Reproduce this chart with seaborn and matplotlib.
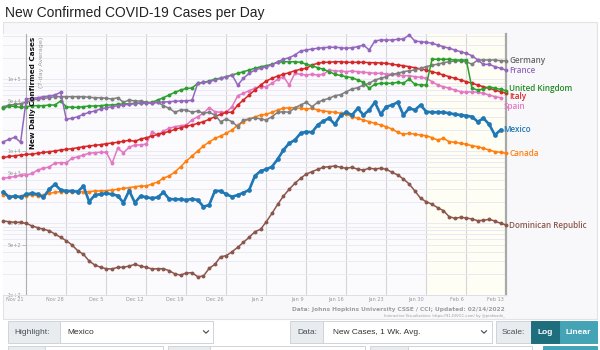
import pandas as pd
import numpy as np
import seaborn as sns
import matplotlib.pyplot as plt
import matplotlib.dates as mdates
import matplotlib.transforms as mtransforms
from matplotlib.patches import Rectangle
from matplotlib.lines import Line2D
from matplotlib.ticker import FixedLocator, LogLocator, NullFormatter

# daily 7-day average of new cases, Nov 17 2021 .. Feb 13 2022
dates = pd.date_range('2021-11-17', '2022-02-13', freq='D')

germany = [41600, 43950, 44670, 45830,
           47930, 51590, 53250, 54450, 55510, 57330, 57330, 57330, 57330, 57330,
           57330, 56230, 55510, 55510, 54450, 53250, 55510, 47930, 51590, 49960,
           49960, 47930, 46420, 47930, 42990, 39540, 34820, 37500, 37500, 34820,
           36300, 33730, 34820, 31920, 25760, 28110, 25760, 21960, 27210, 28110,
           29290, 28110, 27210, 30240, 34820, 35480, 34820, 40330, 43950, 47930,
           41600, 47930, 51590, 54450, 59200, 61120, 67260, 73340, 76430, 83330,
           87980, 97790, 103200, 108700, 117300, 121100, 127500, 131600, 134600, 142200,
           149600, 158000, 161600, 170100, 175500, 179600, 179600, 175500, 161600, 185400,
           185400, 185400, 185400, 181300, 181300]

france = [13590, 14680, 15650, 13335,
          53250, 54450, 55510, 57330, 58630, 60530, 65970, 27830, 28730, 30240,
          32650, 34820, 36300, 38690, 40330, 41600, 42990, 43950, 44960, 45830,
          46420, 46870, 47320, 47930, 48390, 48860, 49490, 49960, 50440, 50900,
          87980, 90840, 92580, 97790, 103200, 108700, 114750, 83330, 103200, 121100,
          134600, 142200, 149600, 158000, 175500, 189600, 199500, 217600, 247300, 255300,
          263600, 269600, 274800, 278300, 278300, 274800, 269600, 274800, 283700, 299500,
          255300, 340300, 351400, 351400, 351400, 359400, 362800, 412400, 340300, 332800,
          326500, 316200, 299500, 283700, 269600, 255300, 241700, 229600, 212700, 185400,
          160500, 161600, 149600, 142200, 133400]

uk = [39540, 42580, 41950, 40840,
      41600, 42990, 42990, 42990, 43950, 43950, 49960, 41600, 40840, 40840,
      41600, 42580, 42580, 42990, 43950, 43950, 44960, 45390, 45830, 46420,
      46870, 47320, 47930, 51590, 55510, 60530, 65970, 71010, 74520, 75720,
      87980, 90840, 94680, 100970, 103200, 108700, 114750, 121100, 127500, 134600,
      142200, 149600, 154500, 161600, 172200, 175500, 175500, 175500, 172200, 161600,
      154500, 144900, 137700, 127500, 117300, 112900, 108700, 105300, 97790, 90840,
      74990, 85220, 87980, 87980, 87980, 90840, 87980, 100970, 85220, 83330,
      83330, 189600, 189600, 189600, 189600, 185400, 185400, 185400, 74990, 71010,
      73340, 78890, 74990, 72630, 69440]

italy = [8200, 8470, 8650, 8883,
         9027, 9173, 9380, 9623, 9872, 10097, 10425, 10661, 10867, 11220,
         11584, 11846, 12115, 12350, 12751, 13040, 13335, 13768, 14216, 13768,
         14820, 15450, 16313, 17113, 17957, 18957, 20085, 21272, 22246, 23190,
         24480, 25760, 27820, 30240, 32650, 34820, 34820, 43950, 51590, 60530,
         71010, 83330, 94680, 103200, 111100, 117300, 123500, 131600, 137700, 142200,
         158000, 166800, 172200, 172200, 175500, 175500, 172200, 172200, 172200, 172200,
         170100, 170100, 168400, 166800, 161500, 158000, 154500, 149600, 144900, 139000,
         134600, 127600, 121100, 114800, 108700, 103200, 97790, 92670, 87980, 83330,
         78890, 74990, 71010, 67300, 63930]

# Spain and Mexico have no value yet for Feb 13
spain = [4217, 4327, 4467, 4613,
         4687, 4917, 5500, 5807, 6052, 6879, 6945, 6945, 7995, 8414,
         8883, 9380, 9563, 9685, 9685, 6813, 11007, 9563, 11365, 12232,
         12232, 12630, 18718, 16844, 19134, 20868, 21963, 22676, 23190, 27205,
         30240, 33730, 40330, 35480, 34820, 34820, 41600, 59200, 63930, 69440,
         74990, 78170, 78890, 87980, 100000, 108700, 83330, 121100, 117300, 114800,
         117300, 114800, 117300, 134600, 130400, 130400, 127500, 130400, 127500, 125100,
         123500, 121100, 121100, 118500, 117300, 114800, 112200, 112200, 108700, 106600,
         103200, 92670, 83330, 78890, 74990, 71010, 67300, 65970, 67300, 65970,
         63930, 60530, 57330, 55530]

mexico = [2748, 2297, 2393, 2297,
          2530, 2612, 2530, 2297, 2965, 3480, 2903, 2812, 2812, 2750,
          3295, 1995, 2472, 2530, 2612, 2530, 2415, 1932, 2840, 1932,
          2393, 2297, 2224, 2297, 2697, 2176, 2154, 2154, 2108, 2176,
          2108, 1701, 1795, 2812, 2812, 2530, 2340, 2472, 2661, 2903,
          4540, 5325, 5623, 6110, 7800, 10420, 12910, 14350, 17780, 18710,
          18360, 23190, 26360, 28730, 23710, 31500, 34820, 31920, 39540, 31920,
          37500, 47940, 32650, 41600, 43950, 47940, 31920, 39540, 37500, 43950,
          35480, 34820, 34820, 34820, 33730, 32650, 31920, 31200, 30240, 25760,
          28730, 23710, 16840, 19770]

canada = [2472, 2393, 2350, 2393,
          2415, 2472, 2415, 2472, 2612, 2697, 2750, 2750, 2750, 2750,
          2750, 2750, 2812, 2812, 2840, 2903, 2965, 3062, 3120, 3220,
          3295, 3295, 3515, 3750, 4255, 4540, 5165, 6100, 7330, 8604,
          10097, 11846, 13460, 15060, 16310, 17780, 19770, 23190, 25760, 28110,
          29940, 31920, 32650, 34820, 37500, 39540, 40330, 40330, 39540, 38690,
          39540, 37500, 36300, 35480, 34820, 33730, 32650, 30240, 28730, 27210,
          25760, 24480, 23190, 21960, 20400, 18360, 17220, 17780, 17220, 16840,
          16470, 15450, 14350, 15170, 13590, 13340, 12910, 12510, 11960, 11590,
          11010, 10420, 9870, 9690, 9380]

dominican = [1076, 1052, 1033, 1026,
             1000, 917, 869, 826, 789, 710, 639, 573, 500, 416,
             371, 299, 263, 245, 234, 232, 245, 245, 255, 269,
             255, 245, 232, 234, 234, 220, 198, 191, 204, 206,
             181, 185, 237, 269, 343, 355, 403, 464, 545, 639,
             764, 826, 1052, 1377, 1837, 2393, 2965, 3594, 4217, 4840,
             5210, 5623, 5995, 6110, 6250, 5995, 5808, 5995, 5623, 5495,
             5808, 5675, 5808, 5623, 5105, 4690, 4125, 3515, 2812, 2224,
             1995, 1837, 1648, 1497, 1235, 1173, 1211, 1185, 1148, 1087,
             1101, 1136, 1076, 1000, 946]

series = {
    'Dominican Republic': dominican,
    'Canada': canada,
    'Spain': spain,
    'Italy': italy,
    'Germany': germany,
    'United Kingdom': uk,
    'France': france,
    'Mexico': mexico,
}
colors = {
    'Mexico': '#1f77b4', 'Canada': '#ff7f0e', 'United Kingdom': '#2ca02c',
    'Italy': '#d62728', 'France': '#9467bd', 'Dominican Republic': '#8c564b',
    'Spain': '#e377c2', 'Germany': '#7f7f7f',
}
label_colors = dict(colors, **{'Germany': '#666666', 'United Kingdom': '#208a20'})
highlight = 'Mexico'
label_dy = {'United Kingdom': 2.5, 'Italy': -3.5, 'Spain': -9}   # nudge crowded end labels (pixels)

week_ticks = pd.date_range('2021-11-21', '2022-02-13', freq='7D')
week_labels = [d.strftime('%b ') + str(d.day) for d in week_ticks]
ytick_vals = [1e2, 5e2, 1e3, 5e3, 1e4, 5e4, 1e5]
ytick_labels = ['1e+2', '5e+2', '1e+3', '5e+3', '1e+4', '5e+4', '1e+5']

W, H = 600, 350
fig = plt.figure(figsize=(6, 3.5), dpi=100)
fig.patch.set_facecolor('white')


def fx(x):
    return x / W


def fy(y):
    return 1 - y / H


def box(x0, y0, x1, y1, fc, ec='#ced4da', lw=0.7, z=1):
    fig.add_artist(Rectangle((fx(x0), fy(y1)), (x1 - x0) / W, (y1 - y0) / H,
                             transform=fig.transFigure, facecolor=fc,
                             edgecolor=ec, lw=lw, zorder=z))


def chevron(x, y):
    fig.add_artist(Line2D([fx(x - 2.5), fx(x), fx(x + 2.5)],
                          [fy(y - 1.2), fy(y + 1.2), fy(y - 1.2)],
                          transform=fig.transFigure, color='#444', lw=0.8))


# chart panel
box(3, 22, 597, 319, '#f8f8fb', ec='#e2e2e7', lw=0.8, z=-2)

ax = fig.add_axes([fx(3), fy(295.3), (506.3 - 3) / W, (295.3 - 34) / H])
ax.set_facecolor('#fbfbfe')

first = dates[4]
last = dates[-1]
ax.axvspan(pd.Timestamp('2022-01-30'), last, color='#fefef4', zorder=0)

for name, vals in series.items():
    hl = name == highlight
    sns.lineplot(x=dates[:len(vals)], y=vals, color=colors[name], ax=ax,
                 lw=1.9 if hl else 1.1, marker='o',
                 markersize=3.4 if hl else 2.8, markeredgewidth=0,
                 legend=False, zorder=4 if hl else 3)
    ax.annotate(name, (dates[len(vals) - 1], vals[-1]),
                xytext=(3, label_dy.get(name, 0)), textcoords='offset pixels',
                ha='left', va='center', fontsize=5.9, fontweight='semibold',
                family='Open Sans', color=label_colors[name], annotation_clip=False)

for ln in ax.lines:
    ln.set_clip_on(False)

ax.set_yscale('log')
ax.set_ylim(100, 425600)
ax.set_xlim(mdates.date2num(first) - 4.08, mdates.date2num(last))

ax.yaxis.set_major_locator(FixedLocator(ytick_vals))
ax.set_yticklabels(ytick_labels)
ax.yaxis.set_minor_locator(LogLocator(base=10, subs=np.arange(2, 10)))
ax.yaxis.set_minor_formatter(NullFormatter())
ax.tick_params(axis='y', which='minor', length=0)
ax.tick_params(axis='y', which='major', length=3, width=0.6, color='#b5b5b5',
               labelsize=3.6, labelcolor='#999999', pad=1)
ax.grid(which='both', axis='y', color='#ebe9f3', lw=0.7)

ax.set_xticks(week_ticks)
ax.set_xticklabels(week_labels, ha='right')
ax.tick_params(axis='x', length=0, labelsize=3.6, labelcolor='#999999', pad=1.5)
ax.grid(which='major', axis='x', color='#d6d6d6', lw=0.8)
shift = mtransforms.ScaledTranslation(-2.5 / 100, 0, fig.dpi_scale_trans)
for lab in ax.get_xticklabels():
    lab.set_transform(lab.get_transform() + shift)

ax.set_xlabel('')
ax.set_ylabel('')
ax.spines['top'].set_visible(False)
ax.spines['left'].set_position(('data', mdates.date2num(first)))
ax.spines['left'].set_color('#b0b0b0')
ax.spines['left'].set_linewidth(0.8)
ax.spines['bottom'].set_color('#e0dde8')
ax.spines['bottom'].set_linewidth(0.7)
ax.spines['right'].set_color('#a8a8a8')
ax.spines['right'].set_linewidth(1.6)

fig.text(fx(5), fy(13), 'New Confirmed COVID-19 Cases per Day', fontsize=10,
         family='Liberation Sans', color='#222222', va='center', ha='left')
fig.text(fx(32.5), fy(37), 'New Daily Confirmed Cases', rotation=90,
         ha='center', va='top', fontsize=5.2, fontweight='bold', color='#111111')
fig.text(fx(41), fy(37), '(7-day Average)', rotation=90, ha='center', va='top',
         fontsize=4.6, color='#999999')

fig.text(fx(505), fy(309.5), 'Data: Johns Hopkins University CSSE / CCI; Updated: 02/14/2022',
         ha='right', va='center', fontsize=4.2, fontweight='bold', color='#9d9d9d')
fig.text(fx(505), fy(315.5), 'Interactive Visualization: https://91-DIVOC.com/ by @profwade_',
         ha='right', va='center', fontsize=2.7, color='#9d9d9d')

# control row below the chart
ui = dict(family='Liberation Sans', fontsize=6, va='center', ha='left')
box(8, 321, 60, 343, '#e9ecef')
box(60, 321, 213, 343, 'white')
fig.text(fx(14), fy(332), 'Highlight:', color='#495057', **ui)
fig.text(fx(67), fy(332), 'Mexico', color='#333333', **ui)
chevron(206, 332)

box(290, 321, 323, 343, '#e9ecef')
box(323, 321, 492, 343, 'white')
fig.text(fx(297), fy(332), 'Data:', color='#495057', **ui)
fig.text(fx(333), fy(332), 'New Cases, 1 Wk. Avg.', color='#333333', **ui)
chevron(484, 332)

box(496, 321, 531, 343, '#e9ecef')
box(531, 321, 560, 343, '#1f6e7e', ec='#1f6e7e')
box(560, 321, 597, 343, '#45a3b6', ec='#45a3b6')
fig.text(fx(502), fy(332), 'Scale:', color='#495057', **ui)
fig.text(fx(545.5), fy(332), 'Log', color='white', fontsize=6, fontweight='bold',
         family='Liberation Sans', va='center', ha='center')
fig.text(fx(578.5), fy(332), 'Linear', color='white', fontsize=6, fontweight='bold',
         family='Liberation Sans', va='center', ha='center')

# next row, mostly cut off
box(8, 346, 45, 356, '#e9ecef')
box(45, 346, 163, 356, 'white')
box(168, 346, 210, 356, '#e9ecef')
box(210, 346, 365, 356, 'white')
box(370, 346, 408, 356, '#e9ecef')
box(408, 346, 532, 356, 'white')
box(543, 346, 597, 356, '#45a3b6', ec='#45a3b6')

fig.savefig('out.png', dpi=100, facecolor='white')
